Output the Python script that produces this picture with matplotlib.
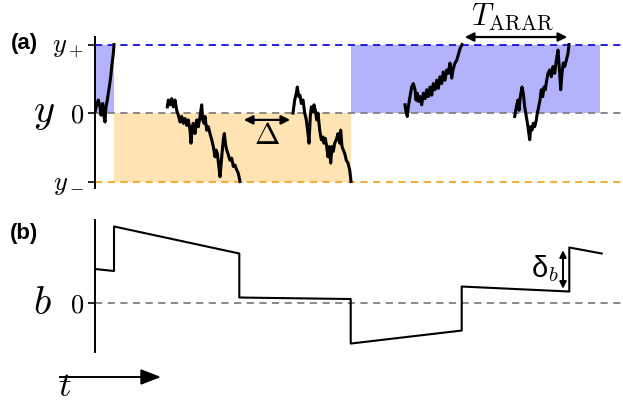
import matplotlib.pyplot as plt

plt.rcParams['mathtext.fontset'] = 'cm'
plt.rcParams['font.family'] = ['Liberation Sans', 'DejaVu Sans']

# random-walk pieces of panel (a): time, y (y+ = 1, y- = -1)
t_walk1 = [0, 1.7, 3.3, 5, 6, 7.7, 9, 10, 11, 12.3, 13.3, 14.3, 15.7, 16.7, 18.3, 19]
y_walk1 = [0.02, 0.12, 0.19, 0.09, -0.03, 0.14, -0.05, -0.13, 0.09, 0.19, 0.29, 0.38, 0.53, 0.68, 0.87, 1.0]

t_walk2 = [72.3, 73.3, 75, 76.7, 78.3, 80, 81.7, 83.3, 85, 86.7, 88.3, 90, 91.7, 93.3, 95, 96,
           97.3, 98.3, 100, 101.7, 103.3, 105, 106.7, 107.7, 109, 110, 111.7, 113.3, 115, 116.7,
           118.3, 120, 121, 122.3, 123.3, 125, 126.7, 128.3, 129.3, 130.7, 131.7, 133.3, 135,
           136.7, 138.3, 140, 141.7, 143.3, 145]
y_walk2 = [0.09, 0.19, 0.12, 0.21, 0.09, 0.19, 0.04, -0.03, -0.13, -0.05, -0.15, -0.08, -0.18, -0.10,
           -0.25, -0.44, -0.20, -0.15, -0.30, -0.10, -0.20, -0.05, 0.12, -0.10, -0.15, -0.05, -0.25,
           -0.20, -0.30, -0.39, -0.49, -0.64, -0.54, -0.59, -0.71, -0.93, -0.64, -0.39, -0.30, -0.47,
           -0.54, -0.61, -0.69, -0.66, -0.78, -0.76, -0.83, -0.88, -1.0]

t_walk3 = [198, 199.7, 201.3, 202.3, 203.7, 205, 206.3, 208, 209.7, 211.3, 213, 214, 215.3, 216.3,
           218, 219, 220.3, 221.7, 223, 224.7, 226.3, 228, 229, 230.3, 231.7, 233, 234.3, 235.7,
           237, 238.3, 239.7, 241.3, 243, 244.7, 245.7, 247, 248.3, 249.7, 251.3, 253, 254.7, 256]
y_walk3 = [0.0, 0.19, 0.29, 0.38, 0.24, 0.26, 0.14, 0.19, 0.0, -0.10, -0.30, -0.44, -0.05, 0.09,
           0.02, 0.12, 0.04, -0.10, 0.0, -0.25, -0.39, -0.35, -0.44, -0.37, -0.49, -0.64, -0.49,
           -0.73, -0.49, -0.56, -0.44, -0.39, -0.30, -0.44, -0.25, -0.49, -0.54, -0.59, -0.69,
           -0.73, -0.83, -1.0]

t_walk4 = [310, 311, 312.3, 313.3, 315, 316.7, 318.3, 320, 321, 322.3, 323.3, 325, 326.7, 328.3,
           330, 331.7, 333.3, 335, 336.7, 338.3, 340, 341.7, 343.3, 345, 346.7, 348.3, 350, 351.7,
           353.3, 355, 356.7, 358.3, 360, 361.7, 363.3, 365, 367]
y_walk4 = [0.12, 0.02, -0.05, 0.09, 0.24, 0.38, 0.43, 0.34, 0.19, 0.29, 0.17, 0.24, 0.12, 0.29,
           0.21, 0.34, 0.24, 0.38, 0.26, 0.43, 0.34, 0.48, 0.36, 0.53, 0.43, 0.60, 0.48, 0.63,
           0.58, 0.73, 0.51, 0.65, 0.73, 0.77, 0.85, 0.94, 1.0]

t_walk5 = [419.7, 421.3, 423, 424, 425.3, 427, 428.3, 429.7, 431.3, 433, 434.7, 435.7, 437, 438.3,
           439.7, 441.3, 442.3, 443.7, 445, 446.3, 447.7, 449, 450.3, 451.7, 453, 454.7, 456.3,
           458, 459.7, 461.3, 463, 464.7, 465.7, 467, 468.3, 469.7, 471.3, 473, 474]
y_walk5 = [-0.05, 0.09, 0.19, 0.04, 0.24, 0.38, 0.29, 0.09, -0.05, -0.20, -0.39, -0.20, -0.25,
           -0.15, -0.20, -0.10, 0.0, 0.09, 0.19, 0.34, 0.24, 0.38, 0.34, 0.48, 0.58, 0.63, 0.53,
           0.68, 0.58, 0.77, 0.92, 0.58, 0.34, 0.58, 0.73, 0.68, 0.77, 0.87, 1.0]

# shaded regions: (start, end, side)
regions = [(0, 19, 'up'), (19, 256, 'down'), (256, 505, 'up')]

# panel (b): piecewise b(t)
t_b = [0, 19, 19, 144.3, 144.3, 255.7, 255.7, 366.7, 366.7, 474.3, 474.3, 506.7]
b_vals = [0.68, 0.64, 1.53, 0.99, 0.11, 0.08, -0.81, -0.55, 0.33, 0.23, 1.11, 0.99]

fig = plt.figure(figsize=(6.23, 4.07), dpi=100)
ax1 = fig.add_axes([0.1525, 0.538, 0.8475, 0.371])
ax2 = fig.add_axes([0.1525, 0.135, 0.8475, 0.3245])

# ---- panel (a)
for t0, t1, side in regions:
    if side == 'up':
        ax1.fill_between([t0, t1], 0, 1, color='#b3b3fb', lw=0)
    else:
        ax1.fill_between([t0, t1], -1, 0, color='#ffe3b3', lw=0)

ax1.axhline(1, color='#1010e0', ls=(0, (4, 3)), lw=1.3)
ax1.axhline(0, color='#808080', ls=(0, (4, 3)), lw=1.3)
ax1.axhline(-1, color='#f5a623', ls=(0, (4, 3)), lw=1.3)

for tw, yw in [(t_walk1, y_walk1), (t_walk2, y_walk2), (t_walk3, y_walk3),
               (t_walk4, y_walk4), (t_walk5, y_walk5)]:
    ax1.plot(tw, yw, color='black', lw=2.2)

ax1.set_xlim(0, 528)
ax1.set_ylim(-1.095, 1.11)
ax1.set_yticks([1, 0, -1])
ax1.set_yticklabels(['$y_+$', '$0$', '$y_-$'], fontsize=19)

ax1.annotate('', xy=(146, -0.1), xytext=(198, -0.1),
             arrowprops=dict(arrowstyle='<|-|>', color='black', lw=1.6, mutation_scale=13))
ax1.text(172, -0.33, r'$\Delta$', fontsize=22, ha='center', va='center')
ax1.annotate('', xy=(367, 1.11), xytext=(475, 1.11), annotation_clip=False,
             arrowprops=dict(arrowstyle='<|-|>', color='black', lw=1.6, mutation_scale=13))
ax1.text(418, 1.40, r'$T_{\rm ARAR}$', fontsize=22, ha='center', va='center', clip_on=False)

# ---- panel (b)
ax2.axhline(0, color='#808080', ls=(0, (4, 3)), lw=1.3)
ax2.plot(t_b, b_vals, color='black', lw=1.5)
ax2.set_xlim(0, 528)
ax2.set_ylim(-0.98, 1.66)
ax2.set_yticks([0])
ax2.set_yticklabels(['$0$'], fontsize=19)
ax2.annotate('', xy=(468, 0.23), xytext=(468, 1.11),
             arrowprops=dict(arrowstyle='<|-|>', color='black', lw=1.4, mutation_scale=10))
ax2.text(464, 0.68, 'δ$_b$', fontsize=21, ha='right', va='center')

for ax in (ax1, ax2):
    for s in ('top', 'right', 'bottom'):
        ax.spines[s].set_visible(False)
    ax.spines['left'].set_linewidth(1.4)
    ax.set_xticks([])
    ax.tick_params(axis='y', length=5, width=1.2, pad=3)

fig.text(44 / 623, 1 - 113 / 407, '$y$', fontsize=29, ha='center', va='center')
fig.text(42 / 623, 1 - 303 / 407, '$b$', fontsize=29, ha='center', va='center')
fig.text(24 / 623, 1 - 43 / 407, '(a)', fontsize=16, fontweight='bold', ha='center', va='center')
fig.text(24 / 623, 1 - 233 / 407, '(b)', fontsize=16, fontweight='bold', ha='center', va='center')

fig.add_artist(plt.Line2D([60 / 623, 150 / 623], [1 - 377 / 407, 1 - 377 / 407],
                          color='black', lw=1.4))
fig.patches.append(plt.Polygon([[141 / 623, 1 - 370 / 407], [159 / 623, 1 - 377 / 407],
                                [141 / 623, 1 - 384 / 407]], closed=True, color='black',
                               transform=fig.transFigure, figure=fig))
fig.text(65 / 623, 1 - 403 / 407, '$t$', fontsize=25, ha='center', va='bottom')

fig.savefig('out.png', dpi=100)
